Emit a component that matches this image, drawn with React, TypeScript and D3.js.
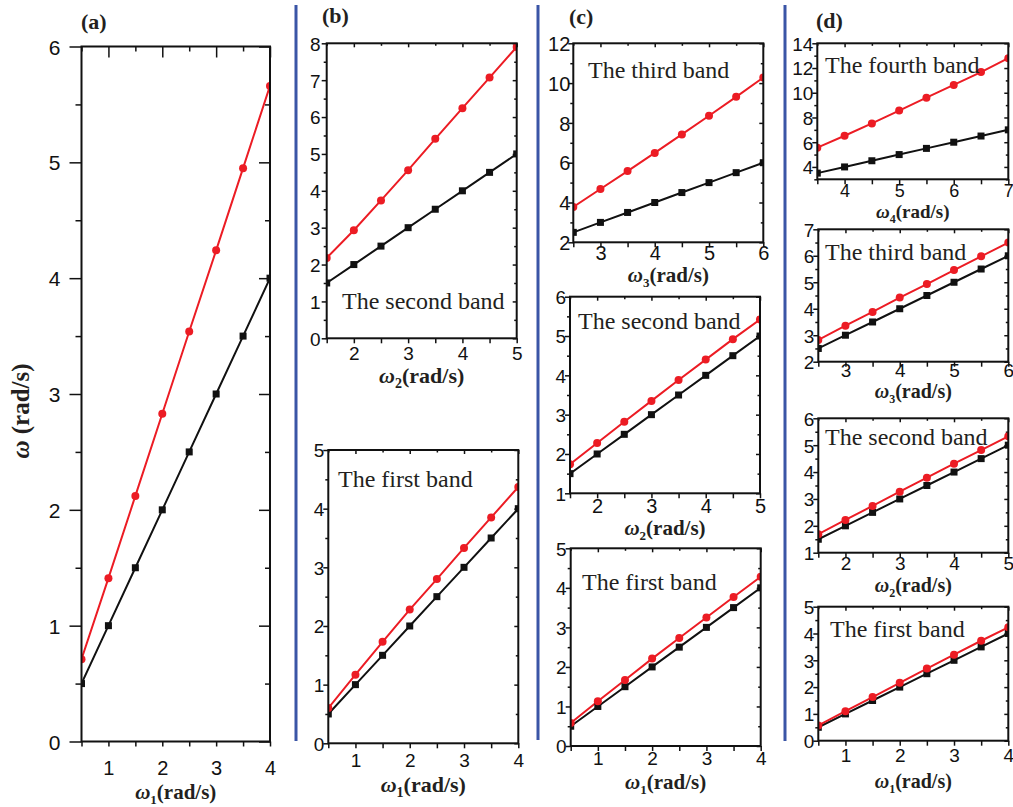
import React, { useEffect, useRef } from "react"
import * as d3 from "d3"

// ---- data ----
// (a) single panel, omega vs omega1
const xA = [0.5, 1, 1.5, 2, 2.5, 3, 3.5, 4]
const blackA = [0.5, 1, 1.5, 2, 2.5, 3, 3.5, 4]
const redA = [0.71, 1.41, 2.12, 2.83, 3.54, 4.24, 4.95, 5.66]

// (b) second band / first band
const xB2 = [1.5, 2, 2.5, 3, 3.5, 4, 4.5, 5]
const blackB2 = [1.5, 2, 2.5, 3, 3.5, 4, 4.5, 5]
const redB2 = [2.18, 2.93, 3.74, 4.56, 5.41, 6.24, 7.07, 7.9]
const xB1 = [0.5, 1, 1.5, 2, 2.5, 3, 3.5, 4]
const blackB1 = [0.5, 1, 1.5, 2, 2.5, 3, 3.5, 4]
const redB1 = [0.6, 1.17, 1.73, 2.28, 2.8, 3.33, 3.85, 4.37]

// (c) third / second / first band
const xC3 = [2.5, 3, 3.5, 4, 4.5, 5, 5.5, 6]
const blackC3 = [2.5, 3, 3.5, 4, 4.5, 5, 5.5, 6]
const redC3 = [3.78, 4.68, 5.58, 6.49, 7.42, 8.36, 9.31, 10.28]
const xC2 = [1.5, 2, 2.5, 3, 3.5, 4, 4.5, 5]
const blackC2 = [1.5, 2, 2.5, 3, 3.5, 4, 4.5, 5]
const redC2 = [1.74, 2.28, 2.82, 3.35, 3.88, 4.4, 4.92, 5.42]
const xC1 = [0.5, 1, 1.5, 2, 2.5, 3, 3.5, 4]
const blackC1 = [0.5, 1, 1.5, 2, 2.5, 3, 3.5, 4]
const redC1 = [0.58, 1.13, 1.67, 2.21, 2.73, 3.25, 3.77, 4.28]

// (d) fourth / third / second / first band
const xD4 = [3.5, 4, 4.5, 5, 5.5, 6, 6.5, 7]
const blackD4 = [3.5, 4, 4.5, 5, 5.5, 6, 6.5, 7]
const redD4 = [5.56, 6.52, 7.52, 8.56, 9.6, 10.63, 11.67, 12.8]
const xD3 = [2.5, 3, 3.5, 4, 4.5, 5, 5.5, 6]
const blackD3 = [2.5, 3, 3.5, 4, 4.5, 5, 5.5, 6]
const redD3 = [2.82, 3.36, 3.88, 4.42, 4.93, 5.46, 5.98, 6.5]
const xD2 = [1.5, 2, 2.5, 3, 3.5, 4, 4.5, 5]
const blackD2 = [1.5, 2, 2.5, 3, 3.5, 4, 4.5, 5]
const redD2 = [1.69, 2.22, 2.74, 3.27, 3.79, 4.31, 4.82, 5.33]
const xD1 = [0.5, 1, 1.5, 2, 2.5, 3, 3.5, 4]
const blackD1 = [0.5, 1, 1.5, 2, 2.5, 3, 3.5, 4]
const redD1 = [0.57, 1.1, 1.63, 2.16, 2.69, 3.21, 3.73, 4.23]

// tick values
const ticks05to4 = [0.5, 1, 1.5, 2, 2.5, 3, 3.5, 4]
const ticks15to5 = [1.5, 2, 2.5, 3, 3.5, 4, 4.5, 5]
const ticks25to6 = [2.5, 3, 3.5, 4, 4.5, 5, 5.5, 6]
const ticks35to7 = [3.5, 4, 4.5, 5, 5.5, 6, 6.5, 7]

const panelLetters = ["(a)", "(b)", "(c)", "(d)"]
const bandNames = ["The first band", "The second band", "The third band", "The fourth band"]

const RED = "#ec1c24"
const BLACK = "#111111"
const BLUE = "#3a55a6"
const SANS = "'Liberation Sans', Arial, sans-serif"
const SERIF = "'Liberation Serif', 'Times New Roman', serif"

const stepsBetween = (a: number, b: number, step: number) =>
  d3.range(a, b + 1e-9, step).map(v => Math.round(v * 100) / 100)

type Panel = {
  left: number; right: number; top: number; bottom: number
  xs: number[]; black: number[]; red: number[]
  xTicks: number[]; yDomain: [number, number]; yStep: number
  sub: string; band: string | null; bandX: number; bandY: number
  xLabelY: number; xTitleY: number; titleFont: number
  xFont: number; yFont: number; yLong: boolean; yGap: number
}

const panels: Panel[] = [
  { left: 81.5, right: 270, top: 46.5, bottom: 741.5, xs: xA, black: blackA, red: redA,
    xTicks: ticks05to4, yDomain: [0, 6], yStep: 1, sub: "1", band: null, bandX: 0, bandY: 0,
    xLabelY: 775, xTitleY: 799, titleFont: 21, xFont: 20, yFont: 21, yLong: true, yGap: 21 },
  { left: 326.7, right: 516.7, top: 43.3, bottom: 338.3, xs: xB2, black: blackB2, red: redB2,
    xTicks: ticks15to5, yDomain: [0, 8], yStep: 1, sub: "2", band: bandNames[1], bandX: 342, bandY: 309,
    xLabelY: 360, xTitleY: 383, titleFont: 22, xFont: 19, yFont: 19, yLong: false, yGap: 6 },
  { left: 328.3, right: 518.3, top: 450, bottom: 743.3, xs: xB1, black: blackB1, red: redB1,
    xTicks: ticks05to4, yDomain: [0, 5], yStep: 1, sub: "1", band: bandNames[0], bandX: 338, bandY: 487,
    xLabelY: 767, xTitleY: 792, titleFont: 22, xFont: 19, yFont: 19, yLong: false, yGap: 4 },
  { left: 573.3, right: 763.3, top: 43.3, bottom: 242.3, xs: xC3, black: blackC3, red: redC3,
    xTicks: ticks25to6, yDomain: [2, 12], yStep: 2, sub: "3", band: bandNames[2], bandX: 588, bandY: 78,
    xLabelY: 260, xTitleY: 282, titleFont: 21, xFont: 20, yFont: 20, yLong: false, yGap: 3 },
  { left: 570, right: 760, top: 296.7, bottom: 493.3, xs: xC2, black: blackC2, red: redC2,
    xTicks: ticks15to5, yDomain: [1, 6], yStep: 1, sub: "2", band: bandNames[1], bandX: 578, bandY: 329,
    xLabelY: 513, xTitleY: 535, titleFont: 21, xFont: 20, yFont: 19, yLong: false, yGap: 4 },
  { left: 570.7, right: 760.7, top: 548.3, bottom: 746, xs: xC1, black: blackC1, red: redC1,
    xTicks: ticks05to4, yDomain: [0, 5], yStep: 1, sub: "1", band: bandNames[0], bandX: 582, bandY: 590,
    xLabelY: 765, xTitleY: 789, titleFont: 21, xFont: 19, yFont: 19, yLong: false, yGap: 4 },
  { left: 817.3, right: 1008.3, top: 43.3, bottom: 179.3, xs: xD4, black: blackD4, red: redD4,
    xTicks: ticks35to7, yDomain: [3, 14], yStep: 2, sub: "4", band: bandNames[3], bandX: 825, bandY: 73,
    xLabelY: 197, xTitleY: 217.5, titleFont: 19, xFont: 18, yFont: 19, yLong: false, yGap: 4 },
  { left: 818.3, right: 1008.3, top: 229.3, bottom: 361.7, xs: xD3, black: blackD3, red: redD3,
    xTicks: ticks25to6, yDomain: [2, 7], yStep: 1, sub: "3", band: bandNames[2], bandX: 825, bandY: 260,
    xLabelY: 377, xTitleY: 398, titleFont: 20, xFont: 19, yFont: 19, yLong: false, yGap: 4 },
  { left: 818.3, right: 1008.3, top: 418.3, bottom: 552.7, xs: xD2, black: blackD2, red: redD2,
    xTicks: ticks15to5, yDomain: [1, 6], yStep: 1, sub: "2", band: bandNames[1], bandX: 825, bandY: 445,
    xLabelY: 570, xTitleY: 592, titleFont: 20, xFont: 19, yFont: 19, yLong: false, yGap: 4 },
  { left: 818.3, right: 1008.3, top: 606.7, bottom: 740.7, xs: xD1, black: blackD1, red: redD1,
    xTicks: ticks05to4, yDomain: [0, 5], yStep: 1, sub: "1", band: bandNames[0], bandX: 830, bandY: 637,
    xLabelY: 762, xTitleY: 788, titleFont: 20, xFont: 19, yFont: 19, yLong: false, yGap: 4 },
]

const letterPos = [[81, 29], [322, 23], [569, 24], [816, 28]]
const separators = [[296, 5, 741], [538, 5, 740], [785, 5, 741]]

function drawPanel(svg: d3.Selection<SVGSVGElement, unknown, null, undefined>, p: Panel, i: number) {
  const x = d3.scaleLinear().domain([p.xTicks[0], p.xTicks[p.xTicks.length - 1]]).range([p.left, p.right])
  const y = d3.scaleLinear().domain(p.yDomain).range([p.bottom, p.top])

  const yMajor = stepsBetween(Math.ceil(p.yDomain[0] / p.yStep) * p.yStep, p.yDomain[1], p.yStep)
  const yMinor = stepsBetween(p.yDomain[0], p.yDomain[1], p.yStep / 2).filter(v => !yMajor.includes(v))
  const xMajor = p.xTicks.filter(v => Number.isInteger(v))
  const xMinor = p.xTicks.filter(v => !Number.isInteger(v))

  const majLen = p.yLong ? 12 : 5
  const minLen = p.yLong ? 6 : 3
  const inLen = p.yLong ? 11 : 4
  const inMin = p.yLong ? 5 : 2.5

  const clean = (g: any) => {
    g.select(".domain").remove()
    g.selectAll("line").attr("stroke", BLACK).attr("stroke-width", 1.5)
  }

  // bottom axis
  svg.append("g").attr("transform", `translate(0,${p.bottom})`)
    .call(d3.axisBottom(x).tickValues(xMinor).tickSize(5).tickFormat(() => ""))
    .call(clean)
  svg.append("g").attr("transform", `translate(0,${p.bottom})`)
    .call(d3.axisBottom(x).tickValues(xMajor).tickSize(5).tickFormat(d3.format("d")))
    .call(clean)
    .call(g => g.selectAll("text").attr("dy", null).attr("y", p.xLabelY - p.bottom)
      .attr("font-family", SANS).attr("font-size", p.xFont).attr("fill", BLACK))

  // top axis, ticks inward
  svg.append("g").attr("transform", `translate(0,${p.top})`)
    .call(d3.axisTop(x).tickValues(xMajor).tickSize(-inLen).tickFormat(() => ""))
    .call(clean)
  svg.append("g").attr("transform", `translate(0,${p.top})`)
    .call(d3.axisTop(x).tickValues(xMinor).tickSize(-inMin).tickFormat(() => ""))
    .call(clean)

  // left axis
  svg.append("g").attr("transform", `translate(${p.left},0)`)
    .call(d3.axisLeft(y).tickValues(yMinor).tickSize(minLen).tickFormat(() => ""))
    .call(clean)
  svg.append("g").attr("transform", `translate(${p.left},0)`)
    .call(d3.axisLeft(y).tickValues(yMajor).tickSize(majLen).tickFormat(d3.format("d")))
    .call(clean)
    .call(g => g.selectAll("text").attr("x", -p.yGap).attr("dy", "0.36em")
      .attr("font-family", SANS).attr("font-size", p.yFont).attr("fill", BLACK))

  // right axis, ticks inward
  svg.append("g").attr("transform", `translate(${p.right},0)`)
    .call(d3.axisRight(y).tickValues(yMajor).tickSize(-inLen).tickFormat(() => ""))
    .call(clean)
  svg.append("g").attr("transform", `translate(${p.right},0)`)
    .call(d3.axisRight(y).tickValues(yMinor).tickSize(-inMin).tickFormat(() => ""))
    .call(clean)

  // data, clipped to the frame like the original
  const clipId = `clip-${i}`
  svg.append("clipPath").attr("id", clipId).append("rect")
    .attr("x", p.left).attr("y", p.top).attr("width", p.right - p.left).attr("height", p.bottom - p.top)

  const plot = svg.append("g").attr("clip-path", `url(#${clipId})`)
  const line = d3.line<[number, number]>().x(d => x(d[0])).y(d => y(d[1]))
  const blackPts = d3.zip(p.xs, p.black) as [number, number][]
  const redPts = d3.zip(p.xs, p.red) as [number, number][]

  plot.append("path").datum(blackPts).attr("fill", "none").attr("stroke", BLACK)
    .attr("stroke-width", 2).attr("d", line)
  plot.append("path").datum(redPts).attr("fill", "none").attr("stroke", RED)
    .attr("stroke-width", 2).attr("d", line)

  plot.selectAll("rect.sq").data(blackPts).enter().append("rect").attr("class", "sq")
    .attr("x", d => x(d[0]) - 3.5).attr("y", d => y(d[1]) - 3.5)
    .attr("width", 7).attr("height", 7).attr("fill", BLACK)
  plot.selectAll("circle").data(redPts).enter().append("circle")
    .attr("cx", d => x(d[0])).attr("cy", d => y(d[1])).attr("r", 4).attr("fill", RED)

  // frame
  svg.append("rect").attr("x", p.left).attr("y", p.top)
    .attr("width", p.right - p.left).attr("height", p.bottom - p.top)
    .attr("fill", "none").attr("stroke", BLACK).attr("stroke-width", 2)

  // band label
  if (p.band) {
    svg.append("text").attr("x", p.bandX).attr("y", p.bandY)
      .attr("font-family", SERIF).attr("font-size", 24).attr("fill", "#231f20")
      .text(p.band)
  }

  // x title: omega_n(rad/s)
  const t = svg.append("text").attr("x", (p.left + p.right) / 2).attr("y", p.xTitleY)
    .attr("text-anchor", "middle").attr("font-family", SERIF).attr("font-weight", "bold")
    .attr("font-size", p.titleFont).attr("fill", "#231f20")
  t.append("tspan").attr("font-style", "italic").text("ω")
  t.append("tspan").attr("font-size", Math.round(p.titleFont * 0.62)).attr("dy", 5).text(p.sub)
  t.append("tspan").attr("dy", -5).text("(rad/s)")
}

export default function App() {
  const ref = useRef<SVGSVGElement>(null)

  useEffect(() => {
    const svg = d3.select(ref.current!)
    svg.selectAll("*").remove()

    svg.append("rect").attr("width", 1013).attr("height", 807).attr("fill", "#ffffff")

    separators.forEach(([sx, y0, y1]) => {
      svg.append("line").attr("x1", sx).attr("x2", sx).attr("y1", y0).attr("y2", y1)
        .attr("stroke", BLUE).attr("stroke-width", 3)
    })

    panels.forEach((p, i) => drawPanel(svg, p, i))

    panelLetters.forEach((l, i) => {
      svg.append("text").attr("x", letterPos[i][0]).attr("y", letterPos[i][1])
        .attr("font-family", SERIF).attr("font-weight", "bold").attr("font-size", 22)
        .attr("fill", "#231f20").text(l)
    })

    // y title for (a)
    const yt = svg.append("text").attr("transform", "translate(29,411) rotate(-90)")
      .attr("text-anchor", "middle").attr("font-family", SERIF).attr("font-weight", "bold")
      .attr("font-size", 25).attr("fill", "#231f20")
    yt.append("tspan").attr("font-style", "italic").text("ω")
    yt.append("tspan").text(" (rad/s)")
  }, [])

  return (
    <svg ref={ref} width={1013} height={807}
      style={{ position: "absolute", left: 0, top: 0, display: "block" }} />
  )
}
